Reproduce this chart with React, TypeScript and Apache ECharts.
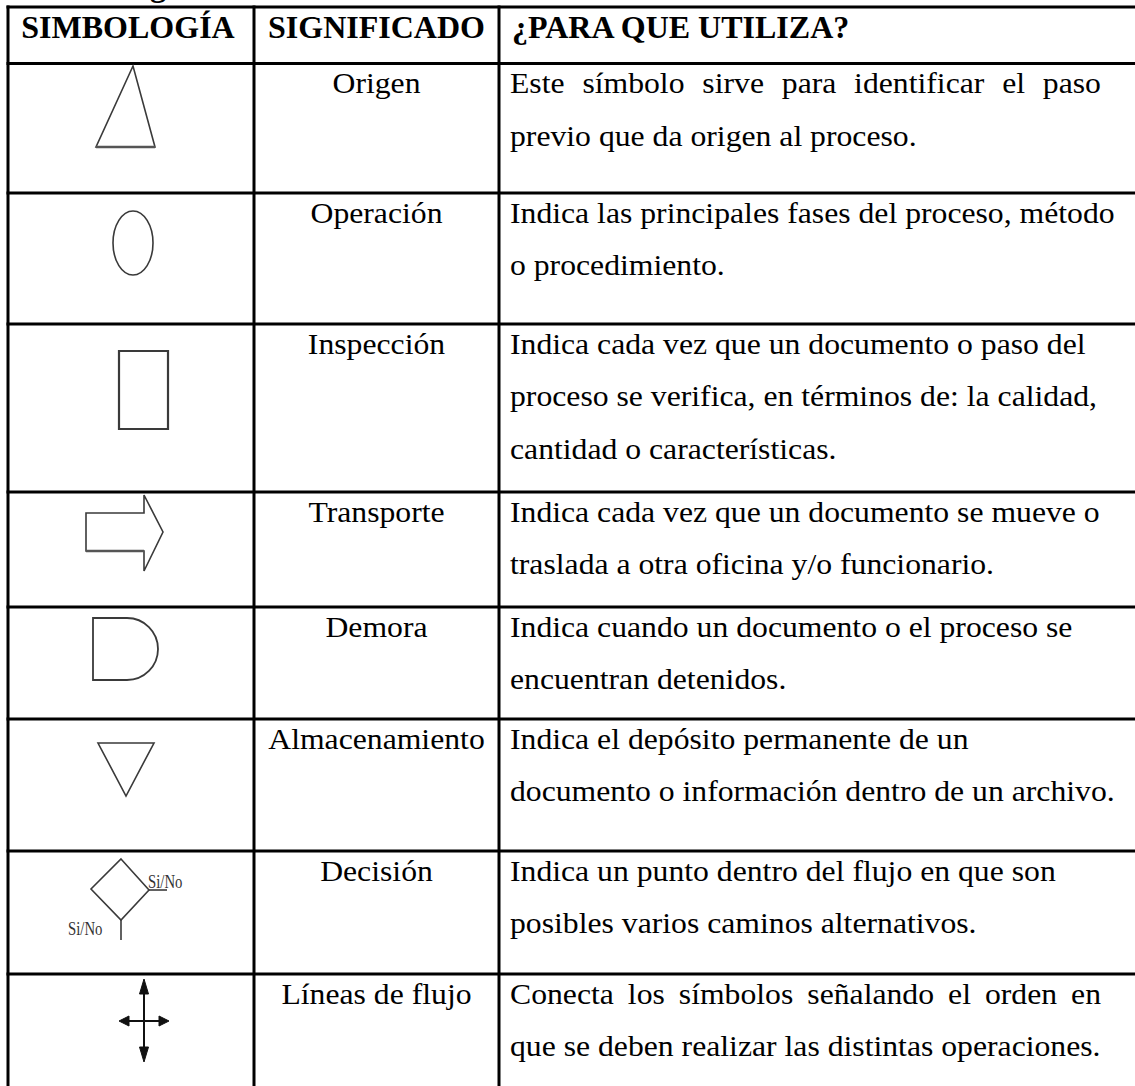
import React, { useEffect, useRef } from "react";
import * as echarts from "echarts";

// ---- content ----
const titleText = "Simbología";
const headers = ["SIMBOLOGÍA", "SIGNIFICADO", "¿PARA QUE UTILIZA?"];
const meanings = [
  "Origen",
  "Operación",
  "Inspección",
  "Transporte",
  "Demora",
  "Almacenamiento",
  "Decisión",
  "Líneas de flujo",
];
const descriptions: string[][] = [
  ["Este símbolo sirve para identificar el paso", "previo que da origen al proceso."],
  ["Indica las principales fases del proceso, método", "o procedimiento."],
  [
    "Indica cada vez que un documento o paso del",
    "proceso se verifica, en términos de: la calidad,",
    "cantidad o características.",
  ],
  ["Indica cada vez que un documento se mueve o", "traslada a otra oficina y/o funcionario."],
  ["Indica cuando un documento o el proceso se", "encuentran detenidos."],
  ["Indica el depósito permanente de un", "documento o información dentro de un archivo."],
  ["Indica un punto dentro del flujo en que son", "posibles varios caminos alternativos."],
  ["Conecta los símbolos señalando el orden en", "que se deben realizar las distintas operaciones."],
];
const justifiedFirstLine = [true, false, false, false, false, false, false, true];
const decisionLabel = "Si/No";

// ---- layout ----
const W = 1135;
const H = 1086;
const LEFT = 8;
const COL1 = 254;
const COL2 = 499;
const RIGHT = 1150;
const TOP = 7;
const HEAD_BOTTOM = 63.5;
const ROW_BOTTOMS = [193, 324, 492, 607, 719, 851, 974];
const FONT = '"Liberation Serif", "Times New Roman", serif';
const BODY_SIZE = 29.5;
const BODY_SCALE = 1.075;
const HEAD_SIZE = 32;
const FIRST_BASELINE = 30;
const LINE_GAP = 52.5;
const TEXT_X = 510;
const TEXT_RIGHT = 1101;
const INK = "#3a3a3a";

function measure(s: string, font: string): number {
  const c = document.createElement("canvas").getContext("2d");
  if (!c) return s.length * 12;
  c.font = font;
  return c.measureText(s).width;
}

function txt(x: number, baseline: number, s: string, size: number, opts: any = {}) {
  return {
    type: "text",
    x,
    y: baseline - 0.34 * size,
    silent: true,
    style: {
      text: s,
      fontFamily: FONT,
      fontSize: size,
      fontWeight: opts.bold ? "bold" : "normal",
      fill: opts.fill || "#000",
      align: opts.align || "left",
      verticalAlign: "middle",
    },
    ...(opts.scaleX ? { scaleX: opts.scaleX } : {}),
  };
}

function ln(x1: number, y1: number, x2: number, y2: number, w = 3, stroke = "#000") {
  return { type: "line", silent: true, shape: { x1, y1, x2, y2 }, style: { stroke, lineWidth: w } };
}

function buildGraphics() {
  const g: any[] = [];
  g.push({ type: "rect", shape: { x: 0, y: 0, width: W, height: H }, style: { fill: "#fff" }, silent: true });

  // cut-off title (only the descender is visible at the top edge)
  g.push(txt(38, -4, titleText, 32, { bold: true }));

  // grid
  const hs = [TOP, HEAD_BOTTOM, ...ROW_BOTTOMS];
  hs.forEach((y) => g.push(ln(LEFT - 1.5, y, RIGHT, y)));
  [LEFT, COL1, COL2].forEach((x) => g.push(ln(x, TOP - 1.5, x, H + 5)));

  // headers
  g.push(txt((LEFT + COL1) / 2 - 3, 37.5, headers[0], HEAD_SIZE, { bold: true, align: "center" }));
  g.push(txt((COL1 + COL2) / 2, 37.5, headers[1], HEAD_SIZE, { bold: true, align: "center" }));
  g.push(txt(TEXT_X + 2, 37.5, headers[2], HEAD_SIZE, { bold: true }));

  const tops = [HEAD_BOTTOM, ...ROW_BOTTOMS];
  const bodyFont = `${BODY_SIZE}px ${FONT}`;
  meanings.forEach((m, i) => {
    const base = tops[i] + FIRST_BASELINE;
    g.push(txt((COL1 + COL2) / 2, base, m, BODY_SIZE, { align: "center", scaleX: BODY_SCALE }));
    descriptions[i].forEach((line, j) => {
      const b = base + j * LINE_GAP;
      if (j === 0 && justifiedFirstLine[i]) {
        const words = line.split(" ");
        const widths = words.map((w) => measure(w, bodyFont) * BODY_SCALE);
        const total = widths.reduce((a, c) => a + c, 0);
        const gap = (TEXT_RIGHT - TEXT_X - total) / (words.length - 1);
        let x = TEXT_X;
        words.forEach((w, k) => {
          g.push(txt(x, b, w, BODY_SIZE, { scaleX: BODY_SCALE }));
          x += widths[k] + gap;
        });
      } else {
        g.push(txt(TEXT_X, b, line, BODY_SIZE, { scaleX: BODY_SCALE }));
      }
    });
  });

  const sym = { stroke: INK, lineWidth: 1.6, fill: "none" };
  // Origen: triangle
  g.push({ type: "polygon", shape: { points: [[133, 66], [96, 147], [155, 147]] }, style: sym });
  g.push(ln(96, 147, 155, 147, 2.6, "#555"));
  // Operación: ellipse
  g.push({ type: "ellipse", shape: { cx: 133, cy: 243, rx: 20, ry: 32 }, style: sym });
  // Inspección: rectangle
  g.push({ type: "rect", shape: { x: 119, y: 351, width: 49, height: 78 }, style: { ...sym, lineWidth: 2.2 } });
  // Transporte: block arrow
  g.push({
    type: "polygon",
    shape: { points: [[86, 513], [144, 513], [144, 495], [163, 532], [144, 571], [144, 551], [86, 551]] },
    style: sym,
  });
  g.push(ln(86, 551, 144, 551, 2.6, "#555"));
  // Demora: D shape
  g.push({
    type: "polyline",
    shape: { points: [[127, 618], [93, 618], [93, 680], [127, 680]] },
    style: { stroke: INK, lineWidth: 1.8, fill: "none" },
  });
  g.push({
    type: "arc",
    shape: { cx: 127, cy: 649, r: 31, startAngle: -Math.PI / 2, endAngle: Math.PI / 2, clockwise: true },
    style: { stroke: INK, lineWidth: 1.8, fill: "none" },
  });
  // Almacenamiento: inverted triangle
  g.push({ type: "polygon", shape: { points: [[98, 743], [154, 743], [126, 796]] }, style: sym });
  // Decisión: diamond
  g.push({ type: "polygon", shape: { points: [[121, 859], [149, 890], [121, 920], [91, 889]] }, style: sym });
  g.push(ln(121, 920, 121, 940, 1.6, INK));
  g.push(ln(149, 890, 167, 890, 1.6, INK));
  g.push(txt(148, 888, decisionLabel, 18, { fill: "#333", scaleX: 0.82 }));
  g.push(txt(68, 935, decisionLabel, 18, { fill: "#333", scaleX: 0.82 }));
  // Líneas de flujo: cross arrows
  g.push(ln(144, 990, 144, 1050, 2, "#111"));
  g.push(ln(126, 1021, 162, 1021, 2, "#111"));
  const head = { fill: "#111", stroke: "#111", lineWidth: 1 };
  g.push({ type: "polygon", shape: { points: [[144, 979], [139.5, 994], [148.5, 994]] }, style: head });
  g.push({ type: "polygon", shape: { points: [[144, 1062], [139.5, 1047], [148.5, 1047]] }, style: head });
  g.push({ type: "polygon", shape: { points: [[119, 1021], [129, 1016], [129, 1026]] }, style: head });
  g.push({ type: "polygon", shape: { points: [[169, 1021], [159, 1016], [159, 1026]] }, style: head });

  return g;
}

export default function App() {
  const ref = useRef<HTMLDivElement>(null);
  useEffect(() => {
    if (!ref.current) return;
    const chart = echarts.init(ref.current, null, { renderer: "svg", width: W, height: H });
    chart.setOption({
      animation: false,
      backgroundColor: "#fff",
      graphic: { elements: buildGraphics() },
    });
    return () => chart.dispose();
  }, []);
  return (
    <div
      ref={ref}
      style={{ position: "absolute", left: 0, top: 0, width: W, height: H, background: "#fff" }}
    />
  );
}
